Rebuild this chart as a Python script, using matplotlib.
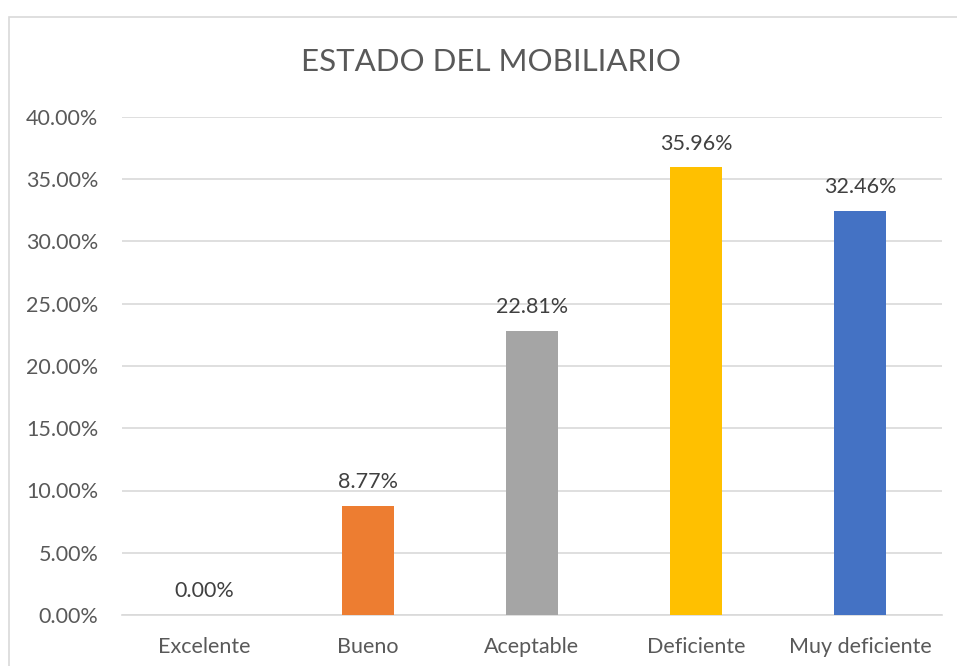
import matplotlib
matplotlib.use("Agg")
import matplotlib.pyplot as plt
from matplotlib.patches import Rectangle
from matplotlib.ticker import FuncFormatter, MultipleLocator

categories = ["Excelente", "Bueno", "Aceptable", "Deficiente", "Muy deficiente"]
values = [0.00, 8.77, 22.81, 35.96, 32.46]
colors = ["#4472C4", "#ED7D31", "#A5A5A5", "#FFC000", "#4472C4"]

plt.rcParams["font.family"] = ["Lato", "DejaVu Sans"]
text_color = "#595959"

W, H = 957, 666
fig = plt.figure(figsize=(W / 100, H / 100), dpi=100)
fig.patch.set_facecolor("white")

# chart frame
fig.patches.append(Rectangle((9 / W, -0.05), 1.2, 1 - 17 / H + 0.05,
                             transform=fig.transFigure, fill=False,
                             edgecolor="#D9D9D9", linewidth=1.2))

ax = fig.add_axes([122 / W, 1 - 615 / H, (942 - 122) / W, (615 - 117) / H])
x = range(len(categories))
bars = ax.bar(x, values, width=0.32, color=colors, zorder=3)
for xi, v in zip(x, values):
    ax.text(xi, v + 1.1, f"{v:.2f}%", ha="center", va="bottom",
            fontsize=15.5, color="#404040")

ax.set_ylim(0, 40)
ax.set_xlim(-0.5, len(categories) - 0.5)
ax.yaxis.set_major_locator(MultipleLocator(5))
ax.yaxis.set_major_formatter(FuncFormatter(lambda v, p: f"{v:.2f}%"))
ax.grid(axis="y", color="#D9D9D9", linewidth=1.2, zorder=0)
for s in ["top", "right", "left"]:
    ax.spines[s].set_visible(False)
ax.spines["bottom"].set_color("#D9D9D9")
ax.spines["bottom"].set_linewidth(1.2)
ax.set_xticks(list(x))
ax.set_xticklabels(categories)
ax.tick_params(axis="both", length=0, labelsize=15.5, colors=text_color)
ax.tick_params(axis="y", pad=17)
ax.tick_params(axis="x", pad=16)

fig.text(491 / W, 1 - 62 / H, "ESTADO DEL MOBILIARIO",
         ha="center", va="center", fontsize=22.5, color=text_color)

fig.savefig("out.png", dpi=100)
